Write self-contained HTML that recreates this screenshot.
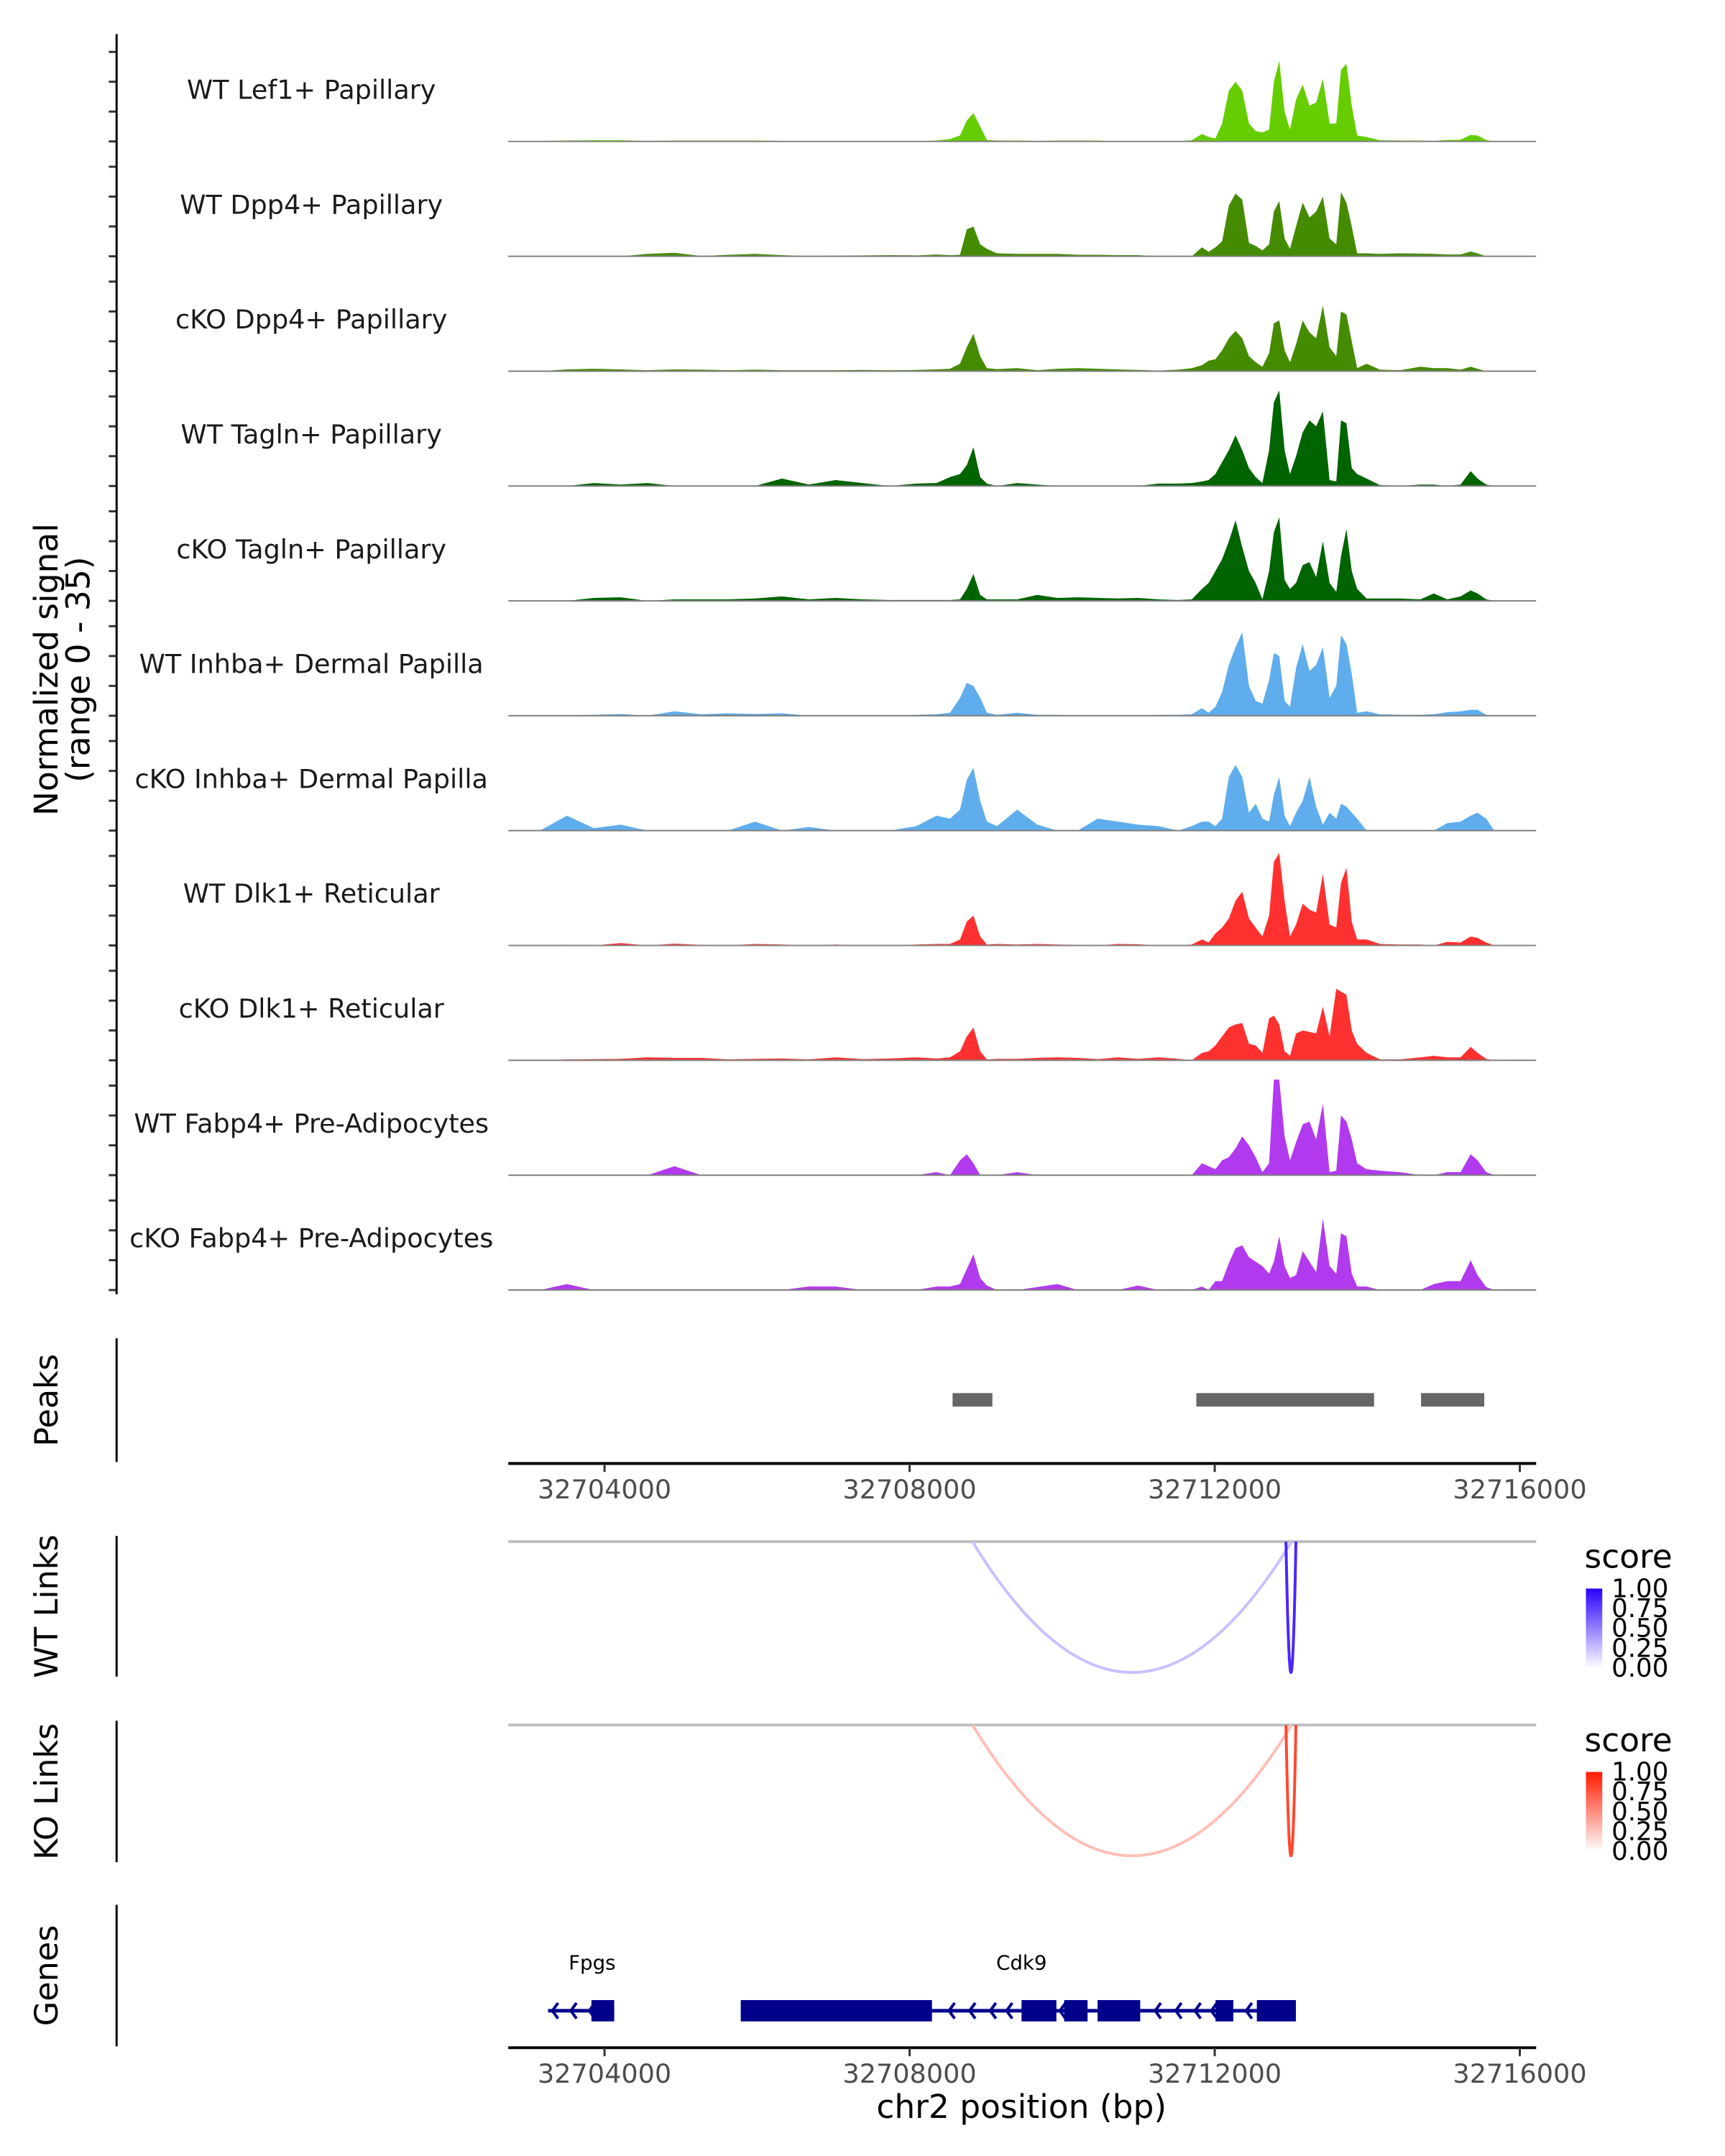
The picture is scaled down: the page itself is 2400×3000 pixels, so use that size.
<!DOCTYPE html>
<html><head><meta charset="utf-8"><style>
html,body{margin:0;padding:0;background:#fff}
svg{display:block;font-family:"DejaVu Sans","Liberation Sans",sans-serif}
</style></head><body>
<svg id="chart" width="2400" height="3000" viewBox="0 0 2400 3000" xmlns="http://www.w3.org/2000/svg">
<defs>
<linearGradient id="gradBlue" x1="0" y1="1" x2="0" y2="0"><stop offset="0" stop-color="#ffffff"/><stop offset="1" stop-color="#2a00ff"/></linearGradient>
<linearGradient id="gradRed" x1="0" y1="1" x2="0" y2="0"><stop offset="0" stop-color="#ffffff"/><stop offset="1" stop-color="#ff1a00"/></linearGradient>
</defs>
<g transform="translate(3,0) scale(0.989)">
<g id="tracks"></g>
<g id="yaxis"></g>
<text transform="translate(78,942) rotate(-90)" text-anchor="middle" font-size="46" fill="#000">Normalized signal</text>
<text transform="translate(123,942) rotate(-90)" text-anchor="middle" font-size="46" fill="#000">(range 0 - 35)</text>
<g id="peaks"></g>
<g id="links"></g>
<g id="genes"></g>
<g id="axes"></g>
</g>
</svg>
<script>
// ---------- data ----------
const posKb = [3.155,3.507,3.859,4.212,4.564,4.917,5.269,5.621,5.974,6.326,6.679,7.031,7.383,7.736,8.088,8.353,8.529,8.661,8.749,8.837,8.925,9.013,9.145,9.410,9.674,9.938,10.203,10.467,10.731,10.996,11.260,11.524,11.700,11.832,11.921,12.009,12.097,12.185,12.273,12.361,12.449,12.537,12.625,12.713,12.775,12.846,12.916,12.987,13.066,13.154,13.242,13.330,13.418,13.506,13.594,13.656,13.727,13.797,13.868,13.991,14.167,14.431,14.696,14.872,15.048,15.224,15.356,15.445,15.559,15.665];
const trackNames = ["WT Lef1+ Papillary","WT Dpp4+ Papillary","cKO Dpp4+ Papillary","WT Tagln+ Papillary","cKO Tagln+ Papillary","WT Inhba+ Dermal Papilla","cKO Inhba+ Dermal Papilla","WT Dlk1+ Reticular","cKO Dlk1+ Reticular","WT Fabp4+ Pre-Adipocytes","cKO Fabp4+ Pre-Adipocytes"];
const trackColors = ["#66cd00","#458b00","#458b00","#006400","#006400","#5fadec","#5fadec","#ff3030","#ff3030","#b23aee","#b23aee"];
const valsWTLef1 = [0.2,0.3,0.4,0.4,0.2,0.3,0.3,0.3,0.3,0.2,0.2,0.2,0.2,0,0,0.3,0.8,2,7,9.5,5,0.5,0.3,0.3,0.2,0.3,0.3,0.3,0,0,0,0.1,0.4,2.5,1.5,1,6,17,20,17,6,3.5,3,4,20,27,10,4,14,19,12,13,21,6,6,24,26,12,2,1.5,0.4,0.3,0.3,0.2,0.5,0.6,2.2,2,0.5,0];
const valsWTDpp4 = [0,0,0,0,0.8,1.2,0.1,0.5,0.8,0.4,0.1,0.2,0.3,0.4,0.3,0.6,0.4,0.5,9,10,4,2.5,1,0.8,0.8,0.8,0.5,0.5,0.4,0.4,0,0,0,3,1.5,3,5,17,21,19,4.5,3.5,2,4,15,18.5,6,2.5,10,18,13,15,20,6,4,21.5,18,10,1,1,0.8,1,0.9,0.8,0.6,0.6,1.6,1,0,0];
const valsKODpp4 = [0,0.6,0.8,0.6,0.3,0.6,0.5,0.3,0.5,0.3,0.3,0.3,0.4,0.3,0.4,0.6,0.8,2.5,8,12.5,5,1,0.7,1,0.3,0.8,1,0.8,0.6,0.4,0.2,0.5,1,2,3.5,4,7,11,13.5,11,5,3,1.5,6,16,17,7,3,9,17,13,11,22,8,5,20,19,10,1,2.5,0.5,0.3,1.5,1,1,0.5,1.5,0.8,0,0];
const valsWTTagln = [0,0,1,0.5,1,0,0,0,0,2.5,0.5,2,1,0,0.8,1,3,4,7,13,3,0.8,0,1,0.5,0,0,0,0,0,0.8,0.8,1,1.5,2,4,8,12,17,12,6,3,1,12,28,32,12,4,10,18,22,20,25,2,1.5,22,21,6,4,2.5,0.3,0,0.5,0.5,0,0.5,5,2.5,0.5,0];
const valsKOTagln = [0,0,1,1.2,0,0.5,0.5,0.5,0.8,1.5,0.5,1,0.5,0.3,0.3,0.3,0.3,0.5,4,9,2,0.5,0.5,0.5,2,1,1.2,1,0.8,1,0.5,0.3,0.5,4,6,10,14,20,27,18,10,6,0.5,10,23,28,7,4,6,12,13,8,20,6,3,15,24,10,4,0.8,0.8,0.8,0.5,2.5,0.5,1.5,3.5,2.5,0.5,0];
const valsWTInhba = [0,0.2,0.3,0.6,0,1.5,0.5,0.8,0.6,0.8,0,0,0,0,0.3,0.5,1,6,11,10,6,1,0.3,1,0.3,0.3,0,0,0,0,0.3,0.3,0.5,2.5,1,3,8,17,23,28,10,5,4,12,21,20,5,3,16,24,15,17,23,6,10,27,24,14,1,1.5,0.5,0.3,0.3,0.5,1.2,1.5,2,2,0.3,0];
const valsKOInhba = [0,5,0.8,2,0,0,0,0,3,0,1.2,0,0,0,1.5,5,4,7,17,21,10,3,1.5,7,2,0,0,4,3,2,1.5,0,1.5,3,3,1.5,4,18,22,18,6,9,4,3,12,18,5,1.5,6,10,18,8,2,6,4,9,8,6,4,0,0,0,0,0,2.5,3,5,6,4,0];
const valsWTDlk1 = [0,0.2,0,0.8,0,0.6,0.2,0,0.5,0.3,0,0.3,0,0,0.3,0.5,0.5,2,8,10,3,0.3,0.5,0.3,0.5,0.3,0.2,0,0.5,0.4,0,0,0.3,2,1,4,6,9,15,18,9,6,3,10,28,31,15,3,7,14,12,11,24,7,6,21,26,8,2,2,0.5,0.3,0.3,0,1.2,1,3,2.5,1,0];
const valsKODlk1 = [0,0.3,0.4,0.5,1,0.8,0.8,0.3,0.5,0.6,0.3,1,0.4,0.6,1,0.6,1,3,8,11,3,0.3,0.5,0.5,0.8,1,0.8,0.4,1,0.5,1,0.5,0,2.5,3,5,8,11,12,12.5,5.5,5,2.5,14,15,12,3,1.5,9,10,9.5,9,18,8,24,23,22,10,5.5,2.5,0.3,0.3,1,1.5,1,1,4.5,2.5,0.5,0];
const valsWTFabp4 = [0,0,0,0,0,3,0,0,0,0,0,0,0,0,0,1,0,5,7,4,0,0,0,1,0,0,0,0,0,0,0,0,0,4,3,2,5,6,9,13,10,6,1,4,32,32,13,5,11,17,18,12,24,1,1.5,20,18,12,4,2,1.5,1,0,0,1,1,7,5,1,0];
const valsKOFabp4 = [0,2,0,0,0,0,0,0,0,0,1.2,1.2,0,0,0,1.2,1.2,2,7,12,4,1.5,0,0,1,2,0,0,0,1.5,0,0,0,1.2,0,3,3,9,14,15,11,9.5,8,5.5,9.5,18,8,4,5,13,9.5,6,24,8,5.5,19,18,5.5,1.2,1.2,0,0,0,2,3,3,10,5,1,0];
const trackValues = [valsWTLef1,valsWTDpp4,valsKODpp4,valsWTTagln,valsKOTagln,valsWTInhba,valsKOInhba,valsWTDlk1,valsKODlk1,valsWTFabp4,valsKOFabp4];
const peakStarts = [32708563,32711759,32714705];
const peakEnds = [32709085,32714089,32715534];
const xTicks = [32704000,32708000,32712000,32716000];
const wtLinkStarts = [32708824,32712934];
const wtLinkEnds = [32713008,32713065];
const wtLinkScores = [0.25,0.85];
const koLinkStarts = [32708824,32712934];
const koLinkEnds = [32713008,32713065];
const koLinkScores = [0.3,0.85];
const legendTicks = ["1.00","0.75","0.50","0.25","0.00"];
const geneNames = ["Fpgs","Cdk9"];
const geneStarts = [32703260,32705786];
const geneEnds = [32704127,32713064];
const exonStarts = [32703828,32705786,32709467,32710026,32710464,32712011,32712552];
const exonEnds = [32704127,32708293,32709924,32710333,32711023,32712244,32713064];
const arrowPos = [32703316,32703558,32703800,32708516,32708786,32709057,32709271,32709970,32711219,32711489,32711741,32711955,32712412];

// ---------- scales ----------
const X0 = 712, X1 = 2158, BP0 = 32702738, BPPX = 0.1073;
function xs(bp){ return X0 + (bp - BP0) * BPPX; }
function xkb(kb){ return xs(32700000 + kb * 1000); }
const UNIT = 4.2;
function base(i){ return 199 + i * 161.6; }
const NS = "http://www.w3.org/2000/svg";
function mk(tag, attrs, parent){ const e = document.createElementNS(NS, tag); for (const k in attrs) e.setAttribute(k, attrs[k]); parent.appendChild(e); return e; }

// ---------- signal tracks ----------
const gT = document.getElementById('tracks');
const gY = document.getElementById('yaxis');
trackValues.forEach((vals, i) => {
  const b = base(i);
  let pts = [[xkb(posKb[0]), b]];
  vals.forEach((v, j) => pts.push([xkb(posKb[j]), b - v * UNIT]));
  pts.push([xkb(posKb[posKb.length - 1]), b]);
  const poly = mk('polygon', {points: pts.map(p => p[0].toFixed(1) + ',' + p[1].toFixed(1)).join(' '), fill: trackColors[i]}, gT);
  
  
  const bl = mk('line', {x1: X0, x2: X1, y1: b, y2: b, stroke: '#808080', 'stroke-width': 2}, gT);
  
  
  const t = mk('text', {x: 435, y: b - 60, 'text-anchor': 'middle', 'font-size': 37, fill: '#1a1a1a'}, gT);
  t.textContent = trackNames[i];
  
  
  for (let k = 0; k < 4; k++) {
    const tk = mk('line', {x1: 150, x2: 161, y1: b - k * 10 * UNIT, y2: b - k * 10 * UNIT, stroke: '#333', 'stroke-width': 3}, gY);
    
    
  }
});
const ya = mk('line', {x1: 161, x2: 161, y1: 48, y2: 1821, stroke: '#000', 'stroke-width': 3}, gY);



// ---------- side axes and titles ----------
function sideAxis(y1, y2, label, name){
  const l = mk('line', {x1: 161, x2: 161, y1: y1, y2: y2, stroke: '#000', 'stroke-width': 3}, document.getElementById('axes'));
  
  
  const t = mk('text', {transform: 'translate(78,' + ((y1 + y2) / 2) + ') rotate(-90)', 'text-anchor': 'middle', 'font-size': 45, fill: '#000'}, document.getElementById('axes'));
  t.textContent = label;
  
  
}
sideAxis(1883, 2057, 'Peaks', 'peaks');
sideAxis(2161, 2359, 'WT Links', 'wt-links');
sideAxis(2421, 2620, 'KO Links', 'ko-links');
sideAxis(2680, 2879, 'Genes', 'genes');

// ---------- peaks ----------
const gP = document.getElementById('peaks');
peakStarts.forEach((s, i) => {
  const r = mk('rect', {x: xs(s), y: 1960, width: xs(peakEnds[i]) - xs(s), height: 19, fill: '#666666'}, gP);
  
  
});

// ---------- x axes ----------
function xAxis(y, withTitle){
  const g = document.getElementById('axes');
  const l = mk('line', {x1: X0, x2: X1, y1: y, y2: y, stroke: '#000', 'stroke-width': 4}, g);
  
  
  xTicks.forEach(v => {
    const tk = mk('line', {x1: xs(v), x2: xs(v), y1: y, y2: y + 12, stroke: '#333', 'stroke-width': 3}, g);
    
    
    const t = mk('text', {x: xs(v), y: y + 49, 'text-anchor': 'middle', 'font-size': 37, fill: '#4d4d4d'}, g);
    t.textContent = v;
    
    
  });
  if (withTitle) {
    const t = mk('text', {x: 1434, y: 2980, 'text-anchor': 'middle', 'font-size': 46, fill: '#000'}, g);
    t.textContent = 'chr2 position (bp)';
    
    
  }
}
xAxis(2059, false);
xAxis(2881, true);

// ---------- links ----------
function mixColor(c, s){
  const r = Math.round(255 + (c[0] - 255) * s), g = Math.round(255 + (c[1] - 255) * s), b = Math.round(255 + (c[2] - 255) * s);
  return 'rgb(' + r + ',' + g + ',' + b + ')';
}
function linkTrack(yb, starts, ends, scores, col, grad, name){
  const g = document.getElementById('links');
  const bl = mk('line', {x1: X0, x2: X1, y1: yb, y2: yb, stroke: '#bebebe', 'stroke-width': 4}, g);
  
  
  const depth = 184;
  starts.forEach((s, i) => {
    const a = xs(s), b = xs(ends[i]);
    const p = mk('path', {d: 'M' + a + ',' + yb + ' Q' + ((a + b) / 2) + ',' + (yb + 2 * depth) + ' ' + b + ',' + yb, fill: 'none', stroke: mixColor(col, scores[i]), 'stroke-width': 4}, g);
    
    
  });
  const t = mk('text', {x: 2226, y: yb + 37, 'font-size': 46, fill: '#000'}, g);
  t.textContent = 'score';
  
  
  const r = mk('rect', {x: 2228, y: yb + 66, width: 23, height: 112, fill: 'url(#' + grad + ')'}, g);
  
  
  legendTicks.forEach((lab, k) => {
    const yy = yb + 66 + k * 28;
    const tt = mk('text', {x: 2264, y: yy + 12, 'font-size': 36, fill: '#000'}, g);
    tt.textContent = lab;
    
    
  });
}
linkTrack(2169, wtLinkStarts, wtLinkEnds, wtLinkScores, [42, 0, 255], 'gradBlue', 'wt-links');
linkTrack(2427, koLinkStarts, koLinkEnds, koLinkScores, [255, 40, 10], 'gradRed', 'ko-links');

// ---------- genes ----------
const gG = document.getElementById('genes');
const GY = 2829, GC = '#00008b';
geneStarts.forEach((s, i) => {
  const l = mk('line', {x1: xs(s), x2: xs(geneEnds[i]), y1: GY, y2: GY, stroke: GC, 'stroke-width': 5}, gG);
  
  
  const t = mk('text', {x: i === 0 ? xs(s) + 62 : xs(s) + 395, y: 2771, 'text-anchor': 'middle', 'font-size': 28, fill: '#000'}, gG);
  t.textContent = geneNames[i];
  
  
});
exonStarts.forEach((s, i) => {
  const r = mk('rect', {x: xs(s), y: 2814, width: xs(exonEnds[i]) - xs(s), height: 30, fill: GC}, gG);
  
  
});
arrowPos.forEach(p => {
  const x = xs(p);
  const a = mk('path', {d: 'M' + (x + 8) + ',' + (GY - 11) + ' L' + x + ',' + GY + ' L' + (x + 8) + ',' + (GY + 11), fill: 'none', stroke: GC, 'stroke-width': 4}, gG);
  
  
});
</script>
</body></html>
